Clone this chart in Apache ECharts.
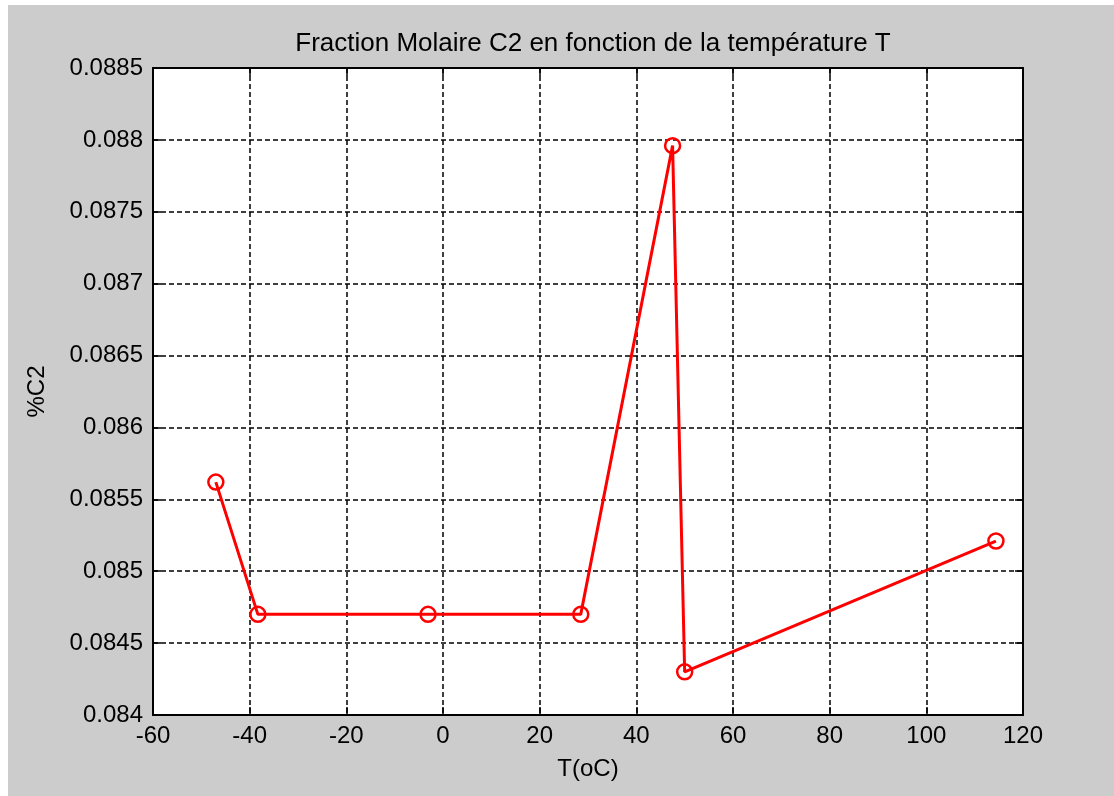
<!DOCTYPE html>
<html><head><meta charset="utf-8">
<script src="https://cdn.jsdelivr.net/npm/echarts@6/dist/echarts.min.js"></script>
<style>
html,body{margin:0;padding:0;background:#fff;width:1114px;height:796px;overflow:hidden}
#wrap{position:absolute;left:8px;top:5px;width:1106px;height:791px;background:#cccccc}
#c{position:absolute;left:-8px;top:-5px;width:1114px;height:796px}
</style></head>
<body><div id="wrap"><div id="c"></div></div>
<script>
var temps = [-47, -38.3, -3.1, 28.5, 47.5, 50, 114.4];
var fractions = [0.08562, 0.0847, 0.0847, 0.0847, 0.08796, 0.0843, 0.08521];
var xTicks = {min: -60, max: 120, step: 20};
var yTicks = {min: 0.084, max: 0.0885, step: 0.0005};

var pts = temps.map(function(t, i){ return [t, fractions[i]]; });
var font = 'Liberation Sans, Arial, sans-serif';
var chart = echarts.init(document.getElementById('c'));
var fmtY = function(v){ return String(parseFloat(v.toFixed(5))); };
var gridLine = {show: true, lineStyle: {color: '#000', type: [5, 3], width: 1.5}};
chart.setOption({
  backgroundColor: 'transparent',
  animation: false,
  title: {text: 'Fraction Molaire C2 en fonction de la température T', left: 588, textAlign: 'center', top: 26,
    textStyle: {fontFamily: font, fontSize: 26, fontWeight: 'normal', color: '#000'}},
  grid: {left: 153, right: 91, top: 68, bottom: 81, show: true, backgroundColor: '#fff', borderColor: '#000', borderWidth: 1},
  xAxis: [{
    type: 'value', min: xTicks.min, max: xTicks.max, interval: xTicks.step,
    name: 'T(oC)', nameLocation: 'middle', nameGap: 42,
    nameTextStyle: {fontFamily: font, fontSize: 24, color: '#000'},
    axisLine: {show: true, onZero: false, lineStyle: {color: '#000', width: 2}},
    axisTick: {show: true, inside: true, length: 8, lineStyle: {color: '#000', width: 1.5}},
    axisLabel: {fontFamily: font, fontSize: 24, color: '#000', margin: 9},
    splitLine: gridLine
  }, {
    type: 'value', position: 'top', min: xTicks.min, max: xTicks.max, interval: xTicks.step,
    axisLine: {show: true, onZero: false, lineStyle: {color: '#000', width: 2}},
    axisTick: {show: true, inside: true, length: 8, lineStyle: {color: '#000', width: 1.5}},
    axisLabel: {show: false}, splitLine: {show: false}
  }],
  yAxis: [{
    type: 'value', min: yTicks.min, max: yTicks.max, interval: yTicks.step,
    name: '%C2', nameLocation: 'middle', nameGap: 104,
    nameTextStyle: {fontFamily: font, fontSize: 24, color: '#000'},
    axisLine: {show: true, onZero: false, lineStyle: {color: '#000', width: 2}},
    axisTick: {show: true, inside: true, length: 8, lineStyle: {color: '#000', width: 1.5}},
    axisLabel: {fontFamily: font, fontSize: 24, color: '#000', margin: 10, formatter: fmtY},
    splitLine: gridLine
  }, {
    type: 'value', position: 'right', min: yTicks.min, max: yTicks.max, interval: yTicks.step,
    axisLine: {show: true, onZero: false, lineStyle: {color: '#000', width: 2}},
    axisTick: {show: true, inside: true, length: 8, lineStyle: {color: '#000', width: 1.5}},
    axisLabel: {show: false}, splitLine: {show: false}
  }],
  series: [{
    type: 'line', data: pts, xAxisIndex: 0, yAxisIndex: 0,
    lineStyle: {color: '#ff0000', width: 3},
    symbol: 'circle', symbolSize: 15, showAllSymbol: true,
    itemStyle: {color: 'rgba(0,0,0,0)', borderColor: '#ff0000', borderWidth: 2.5},
    emphasis: {disabled: true},
    z: 5
  }]
});
</script></body></html>
